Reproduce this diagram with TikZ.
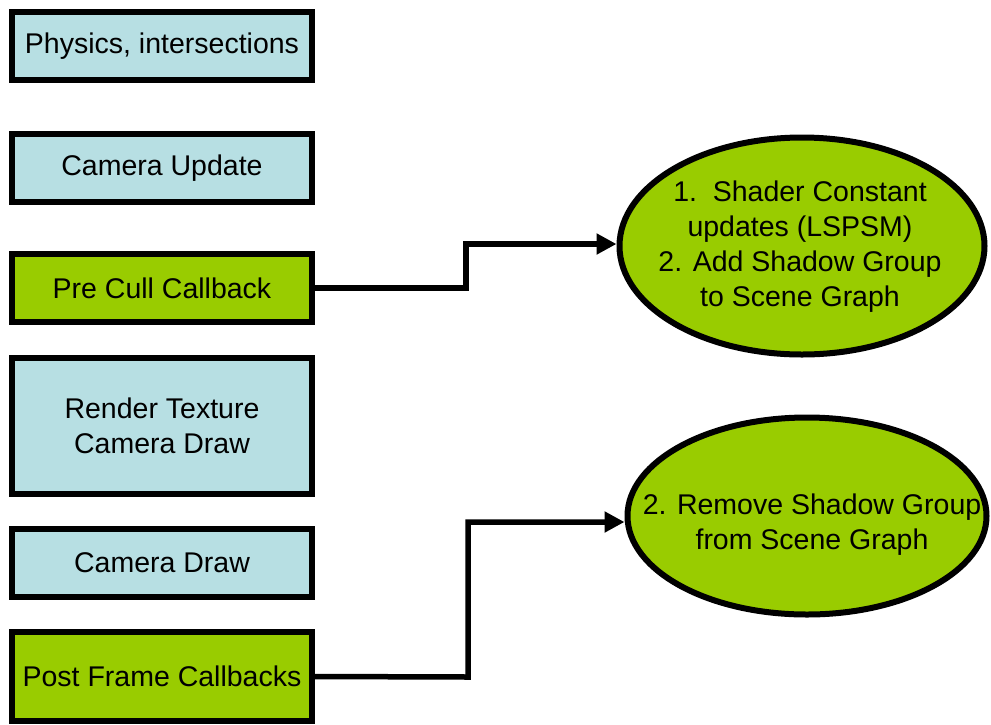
\documentclass[tikz,border=0pt]{standalone}
\usepackage{fontspec}
\setmainfont{Liberation Sans}
\usetikzlibrary{shapes.geometric,arrows.meta}

\definecolor{stageblue}{HTML}{B7DFE3}
\definecolor{stagegreen}{HTML}{99CC00}

\begin{document}
\begin{tikzpicture}[x=1pt, y=-1pt,
    stagebox/.style={draw, line width=6pt, fill=stageblue, minimum width=300pt,
        minimum height=68pt, inner sep=0pt, align=center,
        font=\fontsize{28.5}{35}\selectfont},
    callback/.style={stagebox, fill=stagegreen},
    action/.style={draw, ellipse, line width=6pt, fill=stagegreen, inner sep=0pt},
    actiontext/.style={align=center, inner sep=0pt, font=\fontsize{28.5}{35}\selectfont},
    link/.style={line width=5.5pt, -{Triangle[length=20pt,width=20pt]}}]
    \useasboundingbox (0,0) rectangle (991,724);

    % stages of the frame, top to bottom
    \node[stagebox] (physics) at (162,46) {Physics, intersections};
    \node[stagebox] (camupdate) at (162,168) {Camera Update};
    \node[callback] (precull) at (162,288) {Pre Cull Callback};
    \node[stagebox, minimum height=136pt] (rtt) at (162,426) {Render Texture\\Camera Draw};
    \node[stagebox] (camdraw) at (162,563) {Camera Draw};
    \node[callback, minimum height=89pt] (postframe) at (162,676.5) {Post Frame Callbacks};

    % what the callbacks do
    \node[action, minimum width=365pt, minimum height=217pt] (addshadow) at (802,246) {};
    \node[actiontext] (addtext) at (800,247)
        {1.\ \ Shader Constant\\updates (LSPSM)\\2. Add Shadow Group\\to Scene Graph};
    \node[action, minimum width=359pt, minimum height=197pt] (rmshadow) at (807,516) {};
    \node[actiontext] (rmtext) at (812,525) {2. Remove Shadow Group\\from Scene Graph};

    \draw[link] (precull.east) -- (466,288) |- (addshadow.west |- 0,244);
    \draw[link] (postframe.east) -- (468,677) |- (rmshadow.west |- 0,522);
\end{tikzpicture}
\end{document}
